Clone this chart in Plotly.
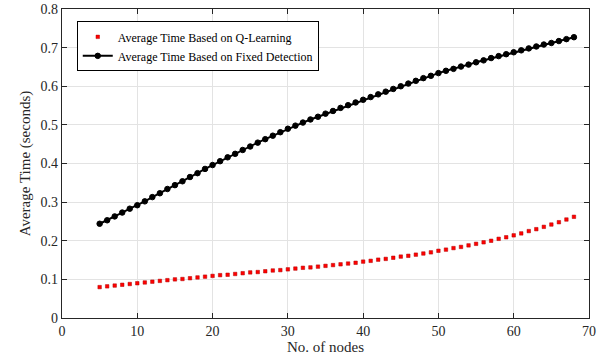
import plotly.graph_objects as go

nodes = list(range(5, 69))

q_learning = [
    0.080, 0.082, 0.084, 0.086, 0.088, 0.090, 0.092, 0.094, 0.096, 0.098,
    0.100, 0.101, 0.103, 0.105, 0.107, 0.109, 0.111, 0.112, 0.114, 0.116,
    0.118, 0.119, 0.121, 0.123, 0.124, 0.126, 0.128, 0.130, 0.131, 0.133,
    0.135, 0.137, 0.139, 0.141, 0.143, 0.146, 0.148, 0.151, 0.153, 0.156,
    0.159, 0.161, 0.164, 0.167, 0.170, 0.174, 0.177, 0.181, 0.184, 0.188,
    0.192, 0.196, 0.200, 0.205, 0.209, 0.214, 0.219, 0.225, 0.230, 0.236,
    0.242, 0.248, 0.255, 0.262,
]

fixed_detection = [
    0.244, 0.253, 0.263, 0.273, 0.283, 0.292, 0.302, 0.313, 0.323, 0.334,
    0.344, 0.354, 0.365, 0.375, 0.386, 0.396, 0.406, 0.416, 0.425, 0.435,
    0.444, 0.454, 0.463, 0.472, 0.481, 0.490, 0.498, 0.506, 0.514, 0.521,
    0.529, 0.536, 0.544, 0.551, 0.558, 0.565, 0.572, 0.579, 0.586, 0.593,
    0.600, 0.607, 0.614, 0.621, 0.627, 0.634, 0.640, 0.645, 0.651, 0.656,
    0.662, 0.667, 0.673, 0.678, 0.683, 0.688, 0.693, 0.698, 0.703, 0.708,
    0.712, 0.717, 0.722, 0.727,
]

x_ticks = [0, 10, 20, 30, 40, 50, 60, 70]
y_ticks = [0, 0.1, 0.2, 0.3, 0.4, 0.5, 0.6, 0.7, 0.8]
y_tick_labels = ["0", "0.1", "0.2", "0.3", "0.4", "0.5", "0.6", "0.7", "0.8"]

FONT = "Liberation Serif"

fig = go.Figure()
fig.add_trace(go.Scatter(
    x=nodes, y=q_learning, mode="markers",
    name="Average Time Based on Q-Learning",
    marker=dict(symbol="square", size=3.5, color="#ff0000",
                line=dict(width=0.5, color="#b00000")),
))
fig.add_trace(go.Scatter(
    x=nodes, y=fixed_detection, mode="lines+markers",
    name="Average Time Based on Fixed Detection",
    line=dict(color="black", width=2),
    marker=dict(symbol="circle", size=5.5, color="black",
                line=dict(width=1, color="black")),
))

axis_common = dict(
    showgrid=True, gridcolor="#e3e3e3", gridwidth=1,
    showline=True, linecolor="#262626", linewidth=1.2, mirror="ticks",
    ticks="inside", ticklen=5, tickcolor="#262626",
    tickfont=dict(family=FONT, size=14, color="#262626"),
    zeroline=False, automargin=False,
)

fig.update_layout(
    width=597, height=363,
    margin=dict(l=62, r=8, t=9, b=45),
    paper_bgcolor="white", plot_bgcolor="white",
    font=dict(family=FONT, color="#262626"),
    xaxis=dict(range=[0, 70], tickvals=x_ticks,
               title=dict(text="No. of nodes", font=dict(family=FONT, size=15), standoff=2),
               **axis_common),
    yaxis=dict(range=[0, 0.8], tickvals=y_ticks, ticktext=y_tick_labels,
               title=dict(text="Average Time (seconds)", font=dict(family=FONT, size=15), standoff=6),
               **axis_common),
    legend=dict(x=0.028, y=0.96, xanchor="left", yanchor="top",
                bgcolor="white", bordercolor="black", borderwidth=1,
                font=dict(family=FONT, size=12, color="black"),
                tracegroupgap=0, itemwidth=30),
    showlegend=True,
)

fig.write_html(
    "out.html",
    config={"displayModeBar": False},
    post_script="document.body.style.margin='0';document.body.style.padding='0';",
)
